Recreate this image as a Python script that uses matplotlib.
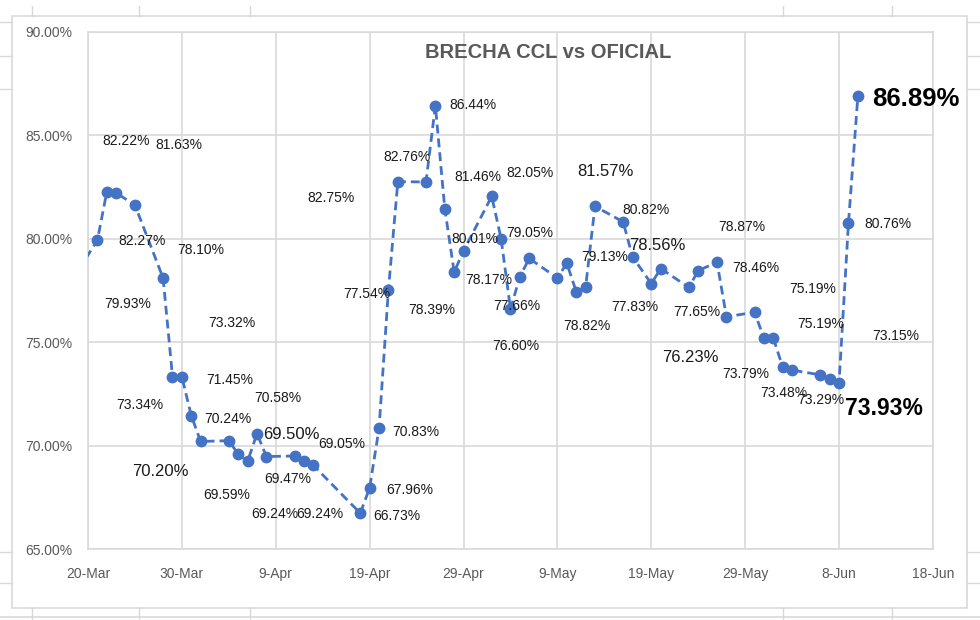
import matplotlib
matplotlib.use("Agg")
import matplotlib.pyplot as plt
from matplotlib.patches import Rectangle
from matplotlib.lines import Line2D
import pandas as pd

plt.rcParams["font.family"] = ["Liberation Sans", "DejaVu Sans"]

# Serie diaria de la brecha (%)
dates = [
    "2022-03-19", "2022-03-21", "2022-03-22", "2022-03-23", "2022-03-25",
    "2022-03-28", "2022-03-29", "2022-03-30", "2022-03-31", "2022-04-01",
    "2022-04-04", "2022-04-05", "2022-04-06", "2022-04-07", "2022-04-08",
    "2022-04-11", "2022-04-12", "2022-04-13", "2022-04-18", "2022-04-19",
    "2022-04-20", "2022-04-21", "2022-04-22", "2022-04-25", "2022-04-26",
    "2022-04-27", "2022-04-28", "2022-04-29", "2022-05-02", "2022-05-03",
    "2022-05-04", "2022-05-05", "2022-05-06", "2022-05-09", "2022-05-10",
    "2022-05-11", "2022-05-12", "2022-05-13", "2022-05-16", "2022-05-17",
    "2022-05-19", "2022-05-20", "2022-05-23", "2022-05-24", "2022-05-26",
    "2022-05-27", "2022-05-30", "2022-05-31", "2022-06-01", "2022-06-02",
    "2022-06-03", "2022-06-06", "2022-06-07", "2022-06-08", "2022-06-09",
    "2022-06-10",
]
gap = [
    78.50, 79.93, 82.27, 82.22, 81.63,
    78.10, 73.34, 73.32, 71.45, 70.20,
    70.24, 69.59, 69.24, 70.58, 69.47,
    69.50, 69.24, 69.05, 66.73, 67.96,
    70.83, 77.54, 82.76, 82.75, 86.44,
    81.46, 78.39, 79.42, 82.05, 80.01,
    76.60, 78.17, 79.05, 78.10, 78.82,
    77.45, 77.66, 81.57, 80.82, 79.13,
    77.83, 78.56, 77.65, 78.46, 78.87,
    76.23, 76.45, 75.19, 75.19, 73.79,
    73.65, 73.42, 73.22, 73.05, 80.76,
    86.89,
]

# etiquetas tal como aparecen en el grafico (texto, dia desde 20-Mar, altura)
label_text = [
    "82.22%", "81.63%", "82.27%", "78.10%", "79.93%", "73.32%", "71.45%",
    "70.58%", "73.34%", "70.24%", "69.50%", "69.05%", "70.20%", "69.47%",
    "69.59%", "69.24%", "69.24%", "66.73%", "67.96%", "70.83%", "77.54%",
    "82.75%", "82.76%", "86.44%", "81.46%", "82.05%", "80.01%", "79.05%",
    "78.39%", "78.17%", "77.66%", "76.60%", "78.82%", "81.57%", "80.82%",
    "79.13%", "78.56%", "77.83%", "77.65%", "78.87%", "78.46%", "76.23%",
    "73.79%", "73.48%", "73.29%", "73.93%", "75.19%", "75.19%", "73.15%",
    "80.76%", "86.89%",
]
label_day = [
    4.06, 9.71, 5.76, 12.06, 4.27, 15.37, 15.05,
    20.17, 5.55, 14.94, 21.67, 27.0, 7.68, 21.24,
    14.73, 19.85, 24.65, 32.87, 34.26, 34.9, 29.67,
    25.83, 33.94, 40.98, 41.52, 47.07, 41.2, 47.07,
    36.6, 42.69, 45.68, 45.57, 53.15, 55.07, 59.45,
    55.07, 60.62, 58.27, 64.89, 69.69, 71.08, 64.14,
    70.01, 74.07, 78.01, 84.74, 77.16, 78.01, 86.02,
    85.17, 88.15,
]
label_y = [
    84.72, 84.53, 79.87, 79.44, 76.87, 75.95, 73.19,
    72.32, 71.98, 71.30, 70.52, 70.09, 68.73, 68.39,
    67.62, 66.70, 66.70, 66.60, 67.86, 70.67, 77.35,
    81.96, 83.94, 86.46, 82.97, 83.17, 79.97, 80.26,
    76.58, 78.03, 76.77, 74.84, 75.80, 83.27, 81.38,
    79.10, 79.68, 76.68, 76.48, 80.55, 78.57, 74.25,
    73.48, 72.56, 72.22, 71.78, 77.55, 75.90, 75.32,
    80.70, 86.75,
]
big_labels = {"69.50%", "70.20%", "81.57%", "78.56%", "76.23%"}
bold_sizes = {"73.93%": 16.5, "86.89%": 18.5}

x = pd.to_datetime(dates)
start = pd.Timestamp("2022-03-20")
end = pd.Timestamp("2022-06-18")

fig = plt.figure(figsize=(9.8, 6.2), dpi=100)
ax = fig.add_axes([0.0898, 0.1145, 0.8622, 0.8339])

ax.plot(x, gap, color="#4472C4", linestyle=(0, (3.2, 1.8)), linewidth=2.0,
        marker="o", markersize=7.5, zorder=3)

ax.set_xlim(start, end)
ax.set_ylim(65, 90)
ax.set_yticks([65, 70, 75, 80, 85, 90])
ax.yaxis.set_major_formatter(plt.FuncFormatter(lambda v, p: f"{v:.2f}%"))
ticks = pd.date_range(start, end, freq="10D")
ax.set_xticks(ticks)
ax.set_xticklabels([f"{d.day}-{d.strftime('%b')}" for d in ticks])
ax.tick_params(axis="both", length=0, labelsize=10, colors="#595959")
ax.tick_params(axis="y", pad=11.5)
ax.tick_params(axis="x", pad=13)
ax.grid(True, color="#d9d9d9", linewidth=1.2)
ax.set_axisbelow(True)
for s in ax.spines.values():
    s.set_color("#d9d9d9")
    s.set_linewidth(1.2)

for t, d, yv in zip(label_text, label_day, label_y):
    xd = start + pd.Timedelta(days=d)
    if t in bold_sizes:
        ax.text(xd, yv, t, fontsize=bold_sizes[t], fontweight="bold",
                color="black", ha="center", va="center", zorder=4)
    elif t in big_labels:
        ax.text(xd, yv, t, fontsize=12, color="#1a1a1a",
                ha="center", va="center", zorder=4)
    else:
        ax.text(xd, yv, t, fontsize=10, color="#1a1a1a",
                ha="center", va="center", zorder=4)

fig.text(548 / 980, 1 - 53 / 620, "BRECHA CCL vs OFICIAL", fontsize=14.5,
         fontweight="bold", color="#595959", ha="center", va="center")

# borde del area del grafico y restos de la hoja de calculo
fig.add_artist(Rectangle((12 / 980, 1 - 608 / 620), 955 / 980, 592 / 620,
                         transform=fig.transFigure, fill=False,
                         edgecolor="#d9d9d9", linewidth=1.2))
fig.add_artist(Line2D([0, 1], [1 - 617 / 620] * 2, transform=fig.transFigure,
                      color="#d9d9d9", linewidth=1.2))
for px in [32, 139, 250, 783, 892]:
    fig.add_artist(Line2D([px / 980] * 2, [1 - 608 / 620, 0],
                          transform=fig.transFigure, color="#d9d9d9", linewidth=1))
    fig.add_artist(Line2D([px / 980] * 2, [1 - 6 / 620, 1 - 16 / 620],
                          transform=fig.transFigure, color="#d9d9d9", linewidth=1))
for py in [22, 56, 89, 552, 583]:
    fig.add_artist(Line2D([0, 12 / 980], [1 - py / 620] * 2,
                          transform=fig.transFigure, color="#d9d9d9", linewidth=1))
    fig.add_artist(Line2D([967 / 980, 1], [1 - py / 620] * 2,
                          transform=fig.transFigure, color="#d9d9d9", linewidth=1))

fig.savefig("out.png", dpi=100)
